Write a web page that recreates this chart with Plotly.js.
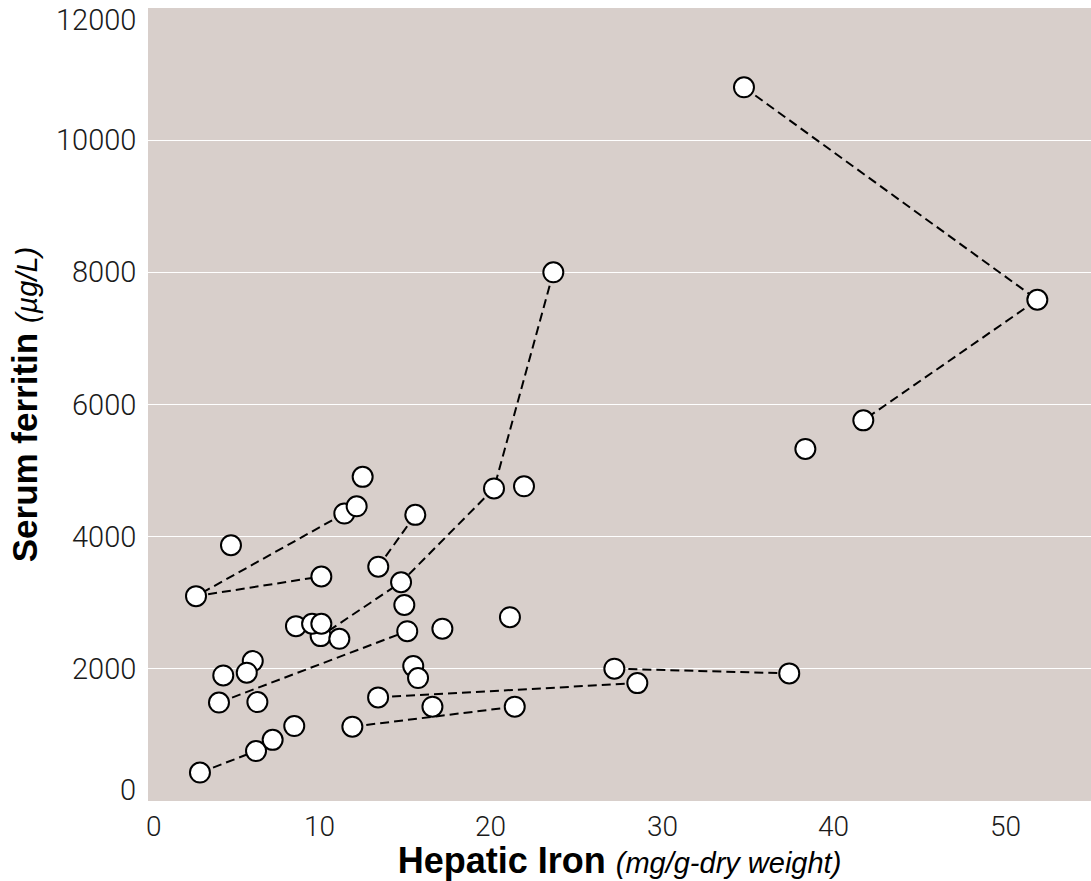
<!DOCTYPE html>
<html>
<head>
<meta charset="utf-8">
<script src="https://cdn.plot.ly/plotly-3.0.1.min.js"></script>
<style>
  html, body { margin: 0; padding: 0; background: #ffffff; }
  #chart { width: 1091px; height: 881px; }
</style>
</head>
<body>
<div id="chart"></div>
<script>
// ---- Data: hepatic iron (mg/g dry weight) vs serum ferritin (µg/L) ----
// Linked measurements (dashed connectors)
const linkA_x = [34.76, 51.87, 41.72];
const linkA_y = [10800, 7585, 5760];
const linkB_x = [23.64, 20.18, 14.76, 10.07];
const linkB_y = [8000, 4730, 3310, 2495];
const linkC_x = [15.59, 13.43];
const linkC_y = [4330, 3545];
const linkD_x = [11.45, 2.80, 10.11];
const linkD_y = [4350, 3100, 3397];
const linkE_x = [4.14, 15.12];
const linkE_y = [1490, 2570];
const linkF_x = [3.03, 6.30];
const linkF_y = [430, 756];
const linkG_x = [11.92, 21.39];
const linkG_y = [1125, 1427];
const linkH_x = [13.42, 28.54];
const linkH_y = [1568, 1784];
const linkI_x = [27.20, 37.40];
const linkI_y = [2002, 1931];

// Single measurements
const singleX = [38.34, 21.93, 12.52, 12.17, 4.84, 14.95, 8.63, 9.57, 10.11, 11.16, 17.17,
                 21.11, 6.11, 5.76, 4.39, 15.47, 15.75, 6.38, 16.59, 8.53, 7.27];
const singleY = [5328, 4762, 4905, 4460, 3870, 2966, 2646, 2682, 2682, 2455, 2607,
                 2782, 2117, 1941, 1900, 2041, 1860, 1497, 1427, 1134, 925];

// Tick labels
const xTickVals = [0, 10, 20, 30, 40, 50];
const xTickText = ['0', '10', '20', '30', '40', '50'];
const yTickVals = [0, 2000, 4000, 6000, 8000, 10000, 12000];
const yTickText = ['0', '2000', '4000', '6000', '8000', '10000', '12000'];

// ---- Build traces ----
const links = [
  [linkA_x, linkA_y], [linkB_x, linkB_y], [linkC_x, linkC_y], [linkD_x, linkD_y],
  [linkE_x, linkE_y], [linkF_x, linkF_y], [linkG_x, linkG_y], [linkH_x, linkH_y],
  [linkI_x, linkI_y]
];

const traces = links.map(([xs, ys]) => ({
  type: 'scatter', mode: 'lines', x: xs, y: ys,
  line: { color: '#000000', width: 2, dash: '9px,5px' },
  hoverinfo: 'skip', showlegend: false
}));

let allX = [], allY = [];
links.forEach(([xs, ys]) => { allX = allX.concat(xs); allY = allY.concat(ys); });
allX = allX.concat(singleX); allY = allY.concat(singleY);

traces.push({
  type: 'scatter', mode: 'markers', x: allX, y: allY,
  marker: { size: 20, color: '#ffffff', line: { color: '#000000', width: 2 } },
  showlegend: false
});

const yTickFont = { family: 'Roboto, "Liberation Sans", sans-serif', size: 29, color: '#1a1a1a', weight: 300 };
const xTickFont = { family: 'Roboto, "Liberation Sans", sans-serif', size: 28, color: '#1a1a1a', weight: 300 };

const annotations = [];
yTickVals.forEach((v, i) => {
  annotations.push({
    xref: 'paper', x: 0, xanchor: 'right', xshift: -10,
    yref: 'y', y: v, yanchor: 'middle', height: 30,
    yshift: v === 0 ? 11 : (v === 12000 ? -12 : 0),
    text: yTickText[i], showarrow: false, font: yTickFont
  });
});
xTickVals.forEach((v, i) => {
  annotations.push({
    xref: 'x', x: v, xanchor: 'center', xshift: v === 0 ? 6 : 0,
    yref: 'paper', y: 0, yanchor: 'top', yshift: -10, height: 26,
    text: xTickText[i], showarrow: false, font: xTickFont
  });
});

const layout = {
  width: 1091, height: 881,
  margin: { l: 148, r: 0, t: 8, b: 80, pad: 0 },
  paper_bgcolor: '#ffffff',
  plot_bgcolor: '#d8cfcb',
  showlegend: false,
  xaxis: {
    range: [0, 55], showgrid: false, zeroline: false, showline: false,
    showticklabels: false, ticks: '', fixedrange: true,
    title: {
      text: '<b>Hepatic Iron</b> <i><span style="font-size:29px">(mg/g-dry weight)</span></i>',
      font: { family: '"Liberation Sans", Arial, sans-serif', size: 36, color: '#000000' },
      standoff: 46
    }
  },
  yaxis: {
    range: [0, 12000], tickvals: yTickVals, showgrid: true, gridcolor: '#ffffff', gridwidth: 1,
    zeroline: false, showline: false, showticklabels: false, ticks: '', fixedrange: true,
    title: {
      text: '<b>Serum ferritin</b> <i><span style="font-size:29px">(µg/L)</span></i>',
      font: { family: '"Liberation Sans", Arial, sans-serif', size: 35, color: '#000000' },
      standoff: 98
    }
  },
  annotations: annotations
};

Plotly.newPlot('chart', traces, layout, { displayModeBar: false, staticPlot: true });
</script>
</body>
</html>
